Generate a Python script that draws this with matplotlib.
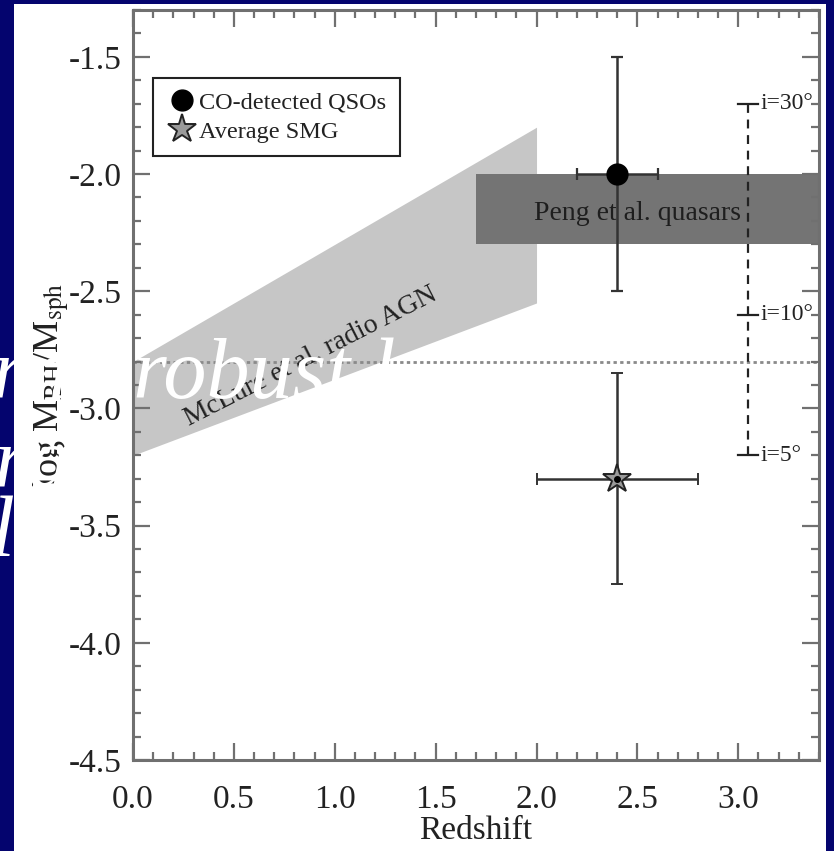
import matplotlib
matplotlib.use("Agg")
import matplotlib.pyplot as plt
from matplotlib.patches import Rectangle
from matplotlib.lines import Line2D
from matplotlib.ticker import MultipleLocator, FormatStrFormatter

plt.rcParams['font.family'] = ['Liberation Serif', 'DejaVu Serif']
plt.rcParams['mathtext.fontset'] = 'stix'
plt.rcParams['axes.unicode_minus'] = False

# --- data -------------------------------------------------------------
# CO-detected QSOs
qso_z = [2.4]
qso_ratio = [-2.0]
qso_zerr = [0.2]
qso_ratio_err = [0.5]

# Average SMG
smg_z = [2.4]
smg_ratio = [-3.3]
smg_zerr = [0.4]
smg_ratio_err = [0.45]

# McLure et al. radio AGN band: redshift, lower and upper edge
mclure_z = [0.0, 2.0]
mclure_low = [-3.2, -2.55]
mclure_high = [-2.8, -1.8]

# Peng et al. quasars band
peng_z = [1.7, 3.4]
peng_ratio = [-2.3, -2.0]

# local relation
local_ratio = -2.8

# inclination correction scale
incl_z = 3.05
incl_ratio = [-1.7, -2.6, -3.2]
incl_labels = ['i=30°', 'i=10°', 'i=5°']

xlim = (0.0, 3.4)
ylim = (-4.5, -1.3)

# --- figure -----------------------------------------------------------
W, H = 834, 851
fig = plt.figure(figsize=(W / 100, H / 100), dpi=100)
fig.patch.set_facecolor('#04046e')
fig.patches.append(Rectangle((14 / W, 0), (826 - 14) / W, 1 - 4 / H,
                             transform=fig.transFigure, facecolor='white',
                             edgecolor='none', zorder=-5))

ax = fig.add_axes([133 / W, 1 - 760 / H, (819 - 133) / W, (760 - 10) / H])
ax.set_zorder(1)
ax.set_xlim(*xlim)
ax.set_ylim(*ylim)

spine_col = '#707070'
text_col = '#222222'
for s in ax.spines.values():
    s.set_color(spine_col)
    s.set_linewidth(2.2)

ax.xaxis.set_major_locator(MultipleLocator(0.5))
ax.xaxis.set_minor_locator(MultipleLocator(0.1))
ax.yaxis.set_major_locator(MultipleLocator(0.5))
ax.yaxis.set_minor_locator(MultipleLocator(0.1))
ax.tick_params(which='both', direction='in', top=True, right=True,
               color=spine_col, width=1.6, labelsize=24,
               labelcolor=text_col)
ax.tick_params(which='major', length=12)
ax.tick_params(which='minor', length=6)
ax.tick_params(axis='x', which='major', pad=18)
ax.tick_params(axis='y', which='major', pad=8)
ax.xaxis.set_major_formatter(FormatStrFormatter('%.1f'))
ax.yaxis.set_major_formatter(FormatStrFormatter('%.1f'))

ax.set_xlabel('Redshift', fontsize=24, color=text_col, labelpad=0)
ax.set_ylabel(r'log M$_{\rm BH}$/M$_{\rm sph}$', fontsize=26,
              color=text_col, labelpad=-2)

# McLure band
ax.fill_between(mclure_z, mclure_low, mclure_high, color='#c6c6c6',
                linewidth=0, zorder=1)
ax.text(0.88, -2.78, 'McLure et al. radio AGN', rotation=27,
        ha='center', va='center', fontsize=20, color=text_col, zorder=2)

# Peng band
ax.fill_between(peng_z, [peng_ratio[0]] * 2, [peng_ratio[1]] * 2,
                color='#747474', linewidth=0, zorder=1)
ax.text(2.5, -2.17, 'Peng et al. quasars', ha='center', va='center',
        fontsize=20, color='#1e1e1e', zorder=2)

# local relation
ax.axhline(local_ratio, color='#8a8a8a', linestyle=(0, (1.2, 1.2)),
           linewidth=2, zorder=1.5)

# inclination scale
ax.plot([incl_z, incl_z], [max(incl_ratio), min(incl_ratio)], color=text_col,
        linestyle=(0, (4, 3)), linewidth=1.6, zorder=3)
for r, lab in zip(incl_ratio, incl_labels):
    ax.plot([incl_z - 0.05, incl_z + 0.05], [r, r], color=text_col,
            linewidth=1.6, zorder=3)
    ax.text(incl_z + 0.06, r, lab, ha='left', va='center', fontsize=17,
            color=text_col, zorder=3)

# data points
err_kw = dict(ecolor='#333333', elinewidth=1.8, capsize=4, capthick=1.6,
              zorder=4, linestyle='none')
ax.errorbar(qso_z, qso_ratio, xerr=qso_zerr, yerr=qso_ratio_err,
            marker='o', markersize=15, markerfacecolor='black',
            markeredgecolor='black', **err_kw)
ax.errorbar(smg_z, smg_ratio, xerr=smg_zerr, yerr=smg_ratio_err,
            marker='*', markersize=21, markerfacecolor='#9a9a9a',
            markeredgecolor=text_col, markeredgewidth=1.4, **err_kw)
ax.plot(smg_z, smg_ratio, marker='o', markersize=4, color='black',
        linestyle='none', zorder=5)

handles = [
    Line2D([], [], marker='o', markersize=15, color='black', linestyle='none'),
    Line2D([], [], marker='*', markersize=21, markerfacecolor='#9a9a9a',
           markeredgecolor=text_col, markeredgewidth=1.4, linestyle='none'),
]
leg = ax.legend(handles, ['CO-detected QSOs', 'Average SMG'],
                loc='upper left', bbox_to_anchor=(0.029, 0.909),
                fontsize=17.5, frameon=True, fancybox=False, framealpha=1,
                edgecolor=text_col, handletextpad=0.05, borderpad=0.55,
                handlelength=1.3, labelspacing=0.3, borderaxespad=0)
leg.get_frame().set_linewidth(1.5)
for t in leg.get_texts():
    t.set_color(text_col)

# slide caption lying over the figure
cap_kw = dict(color='white', fontsize=62, style='italic',
              family='Liberation Serif', zorder=10)
fig.text(-8 / W, 1 - 398 / H, 'rn   robust l', **cap_kw)
fig.text(-6 / W, 1 - 487 / H, 'ra    c', **cap_kw)
fig.text(-10 / W, 1 - 556 / H, 'ls,', **cap_kw)

fig.savefig('out.png', dpi=100, facecolor=fig.get_facecolor())
